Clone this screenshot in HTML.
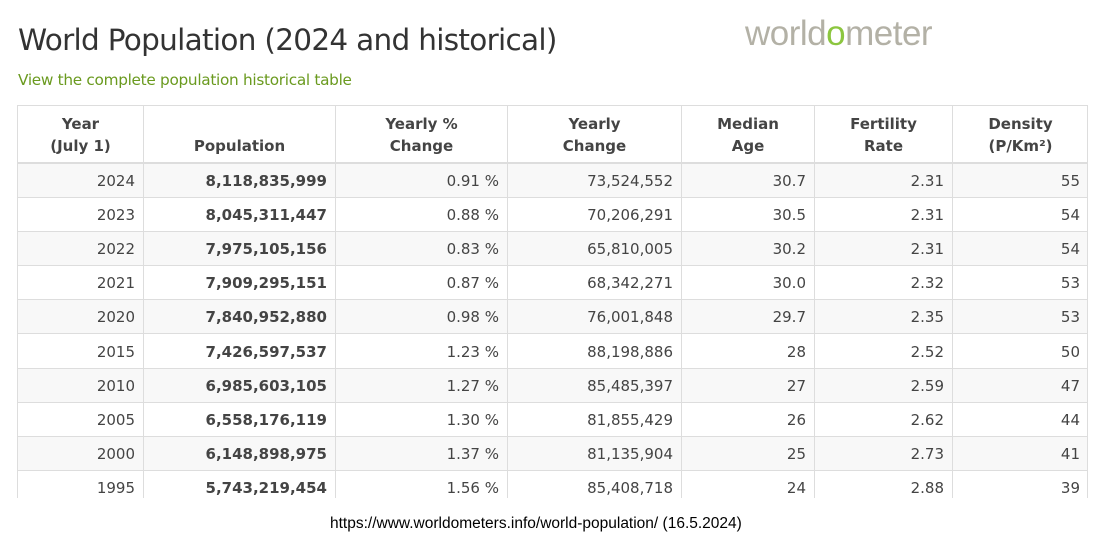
<!DOCTYPE html>
<html><head><meta charset="utf-8"><style>
body{margin:0;width:1098px;height:547px;background:#fff;overflow:hidden;position:relative;font-family:"DejaVu Sans","Liberation Sans",sans-serif;color:#444}
.t{position:absolute;left:18px;top:23px;font-size:29.5px;color:#333;letter-spacing:-0.7px}
.l{position:absolute;left:18px;top:71px;font-size:15.3px;color:#6a9a1f;letter-spacing:-0.3px}
.logo{position:absolute;left:745px;top:14px;font-size:35px;color:#b3b1a6;font-family:"Liberation Sans",sans-serif;letter-spacing:-0.5px}
.logo b{color:#8cc63f;font-weight:normal}
.tb{position:absolute;left:17px;top:105px;width:1071px;height:393px;overflow:hidden;border-left:1px solid #ddd;border-right:1px solid #ddd;box-sizing:border-box}
table{border-collapse:collapse;width:1071px;table-layout:fixed;font-size:15px;margin-left:-1px}
th{border:1px solid #ddd;border-bottom:2px solid #ddd;height:51px;font-weight:bold;color:#444;vertical-align:bottom;padding:0 6px 5px;line-height:22px;font-size:15px}
td{border:1px solid #ddd;text-align:right;padding:1px 8px 0;height:32.1px;color:#444}
tr:nth-child(odd) td{background:#f8f8f8}
td.b{font-weight:bold}
.u{position:absolute;left:330px;top:515px;font-family:"Liberation Sans",sans-serif;font-size:15.5px;color:#000}
</style></head><body>
<div class="t">World Population (2024 and historical)</div>
<div class="logo">world<b>o</b>meter</div>
<div class="l">View the complete population historical table</div>
<div class="tb"><table>
<colgroup><col style="width:126px"><col style="width:192px"><col style="width:172px"><col style="width:174px"><col style="width:133px"><col style="width:138px"><col style="width:136px"></colgroup>
<thead><tr><th>Year<br>(July 1)</th><th>Population</th><th>Yearly %<br>Change</th><th>Yearly<br>Change</th><th>Median<br>Age</th><th>Fertility<br>Rate</th><th>Density<br>(P/Km²)</th></tr></thead>
<tbody>
<tr><td>2024</td><td class="b">8,118,835,999</td><td>0.91 %</td><td>73,524,552</td><td>30.7</td><td>2.31</td><td>55</td></tr>
<tr><td>2023</td><td class="b">8,045,311,447</td><td>0.88 %</td><td>70,206,291</td><td>30.5</td><td>2.31</td><td>54</td></tr>
<tr><td>2022</td><td class="b">7,975,105,156</td><td>0.83 %</td><td>65,810,005</td><td>30.2</td><td>2.31</td><td>54</td></tr>
<tr><td>2021</td><td class="b">7,909,295,151</td><td>0.87 %</td><td>68,342,271</td><td>30.0</td><td>2.32</td><td>53</td></tr>
<tr><td>2020</td><td class="b">7,840,952,880</td><td>0.98 %</td><td>76,001,848</td><td>29.7</td><td>2.35</td><td>53</td></tr>
<tr><td>2015</td><td class="b">7,426,597,537</td><td>1.23 %</td><td>88,198,886</td><td>28</td><td>2.52</td><td>50</td></tr>
<tr><td>2010</td><td class="b">6,985,603,105</td><td>1.27 %</td><td>85,485,397</td><td>27</td><td>2.59</td><td>47</td></tr>
<tr><td>2005</td><td class="b">6,558,176,119</td><td>1.30 %</td><td>81,855,429</td><td>26</td><td>2.62</td><td>44</td></tr>
<tr><td>2000</td><td class="b">6,148,898,975</td><td>1.37 %</td><td>81,135,904</td><td>25</td><td>2.73</td><td>41</td></tr>
<tr><td>1995</td><td class="b">5,743,219,454</td><td>1.56 %</td><td>85,408,718</td><td>24</td><td>2.88</td><td>39</td></tr>
</tbody></table></div>
<div class="u">https://www.worldometers.info/world-population/ (16.5.2024)</div>
</body></html>
